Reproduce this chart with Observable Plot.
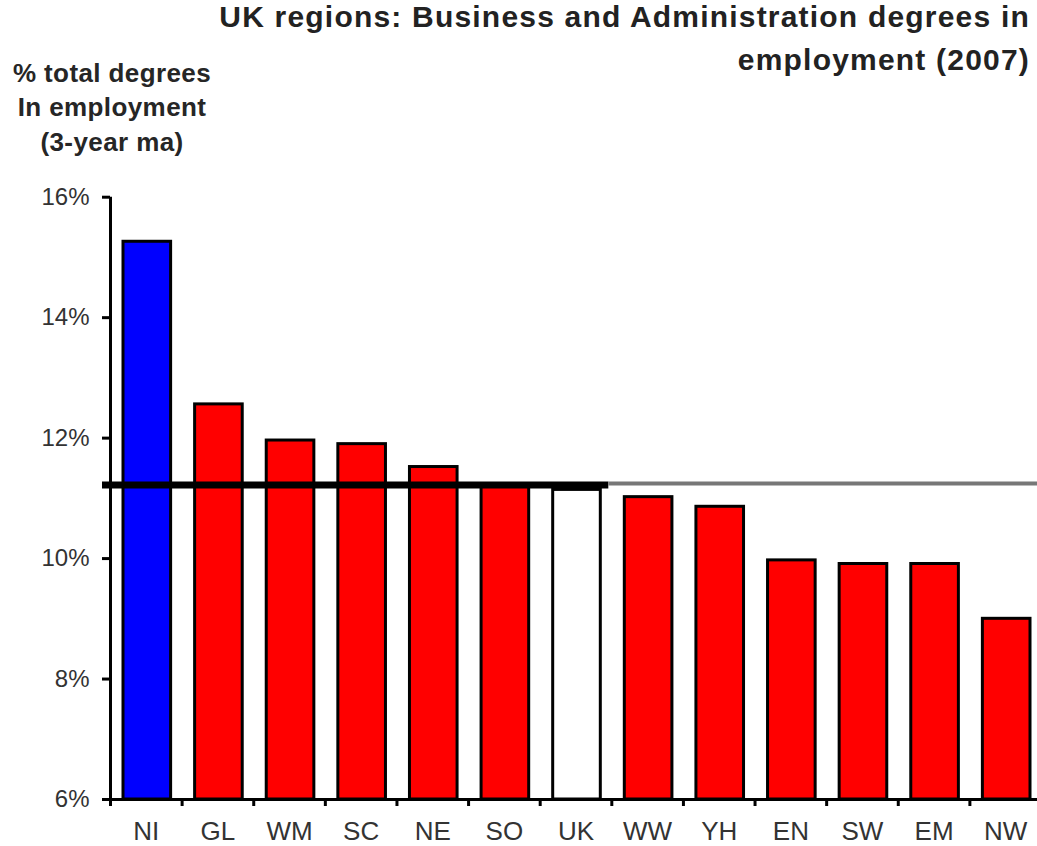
<!DOCTYPE html>
<html>
<head>
<meta charset="utf-8">
<script src="https://cdn.jsdelivr.net/npm/d3@7"></script>
<script src="https://cdn.jsdelivr.net/npm/@observablehq/plot@0.6"></script>
<style>
  html, body { margin: 0; padding: 0; background: #fff; overflow: hidden; }
  #wrap { position: relative; width: 1037px; height: 846px; font-family: "Liberation Sans", Arial, sans-serif; }
  #head { position: relative; height: 170px; }
  .title { position: absolute; right: 7px; font-weight: bold; font-size: 30px; letter-spacing: 1.2px; color: #222; white-space: nowrap; line-height: 1; }
  .ylab { position: absolute; left: 112px; transform: translateX(-50%); font-weight: bold; font-size: 26px; letter-spacing: 0.4px; color: #262626; white-space: nowrap; line-height: 1; }
  #chart svg { display: block; }
</style>
</head>
<body>
<div id="wrap">
  <div id="head">
    <div class="title" style="top:1.6px">UK regions: Business and Administration degrees in</div>
    <div class="title" style="top:44.6px">employment (2007)</div>
    <div class="ylab" style="top:60px">% total degrees</div>
    <div class="ylab" style="top:94px">In employment</div>
    <div class="ylab" style="top:129px">(3-year ma)</div>
  </div>
  <div id="chart"></div>
</div>
<script>
// ---- data ----
const regions = ["NI", "GL", "WM", "SC", "NE", "SO", "UK", "WW", "YH", "EN", "SW", "EM", "NW"];
const shares = [15.26, 12.56, 11.96, 11.90, 11.52, 11.21, 11.14, 11.02, 10.86, 9.97, 9.91, 9.91, 9.00];
const yTicks = [6, 8, 10, 12, 14, 16];
const ukAverage = 11.22;
const highlightRegion = "NI";
const benchmarkRegion = "UK";

// ---- derived table ----
const yBase = yTicks[0];
const data = regions.map((region, i) => ({
  region,
  i,
  share: shares[i],
  role: region === highlightRegion ? "highlight" : region === benchmarkRegion ? "benchmark" : "region"
}));
const ukIndex = regions.indexOf(benchmarkRegion);

const chart = Plot.plot({
  width: 1037,
  height: 676,
  marginTop: 26.7,
  marginBottom: 47,
  marginLeft: 110,
  marginRight: -4,
  style: { fontFamily: "'Liberation Sans', Arial, sans-serif", background: "white" },
  x: { domain: [0, regions.length], axis: null, label: null },
  y: { domain: [yTicks[0], yTicks[yTicks.length - 1]], axis: null, label: null },
  color: { domain: ["highlight", "region", "benchmark"], range: ["#0000ff", "#ff0000", "#ffffff"] },
  marks: [
    Plot.rectY(data, {
      x1: "i",
      x2: d => d.i + 1,
      y1: yBase,
      y2: "share",
      insetLeft: 13,
      insetRight: 11,
      fill: "role",
      stroke: "black",
      strokeWidth: 3
    }),
    // UK average reference line: thick black to the UK bar, grey beyond
    Plot.ruleY([ukAverage], { x1: 0, x2: ukIndex + 1, insetLeft: -8, insetRight: 3, stroke: "black", strokeWidth: 7 }),
    Plot.ruleY([ukAverage], { x1: ukIndex + 1, x2: regions.length, insetLeft: -3, stroke: "#777", strokeWidth: 4, dy: -1.5 }),
    // axis lines
    Plot.ruleX([0], { stroke: "black", strokeWidth: 3 }),
    Plot.ruleY([yBase], { stroke: "black", strokeWidth: 3, insetLeft: -8 }),
    // y axis
    Plot.axisY({
      ticks: yTicks,
      tickFormat: d => d + "%",
      tickSize: 8,
      tickPadding: 13,
      strokeWidth: 3,
      stroke: "black",
      fill: "#333",
      fontSize: 24,
      label: null
    }),
    // x boundary ticks
    Plot.axisX({
      ticks: d3.range(regions.length + 1),
      tickFormat: () => "",
      tickSize: 7,
      strokeWidth: 3,
      stroke: "black",
      label: null
    }),
    // x category labels
    Plot.axisX({
      ticks: regions.map((_, i) => i + 0.5),
      tickFormat: v => regions[Math.floor(v)],
      tickSize: 0,
      tickPadding: 22,
      fill: "#333",
      fontSize: 26,
      label: null
    })
  ]
});
document.getElementById("chart").appendChild(chart);
</script>
</body>
</html>
